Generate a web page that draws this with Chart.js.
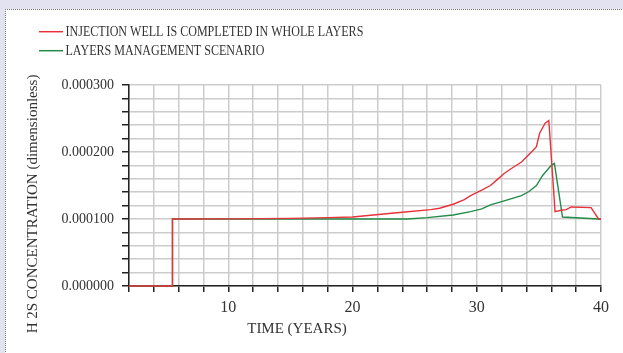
<!DOCTYPE html>
<html>
<head>
<meta charset="utf-8">
<script src="https://cdn.jsdelivr.net/npm/chart.js@4/dist/chart.umd.min.js"></script>
<style>
  html, body { margin: 0; padding: 0; background: #e3e2f0; }
  #sheet {
    position: absolute; left: 5px; top: 9px; width: 618px; height: 344px;
    background: #fff; border-left: 1px dotted #777; border-top: 1px dotted #777;
  }
  #wrap { position: absolute; left: 0; top: 0; width: 623px; height: 353px; }
</style>
</head>
<body>
<div id="sheet"></div>
<div id="wrap"><canvas id="chart" width="623" height="353"></canvas></div>
<script>
// series labels
const seriesNames = [
  "INJECTION WELL IS COMPLETED IN WHOLE LAYERS",
  "LAYERS MANAGEMENT SCENARIO"
];

// red: whole layers completion (time in years, concentration)
const timeWhole = [2, 5.5, 5.5, 10, 15, 18, 20, 22.3, 24, 26.3, 27, 28.1, 29, 29.5, 30.4, 31.1, 31.6, 32.2, 33.0, 33.6, 34.4, 34.8, 35.06, 35.5, 35.8, 36.3, 36.8, 37.2, 37.6, 39.2, 39.8, 40];
const concWhole = [0, 0, 0.000100, 0.0001002, 0.000101, 0.000102, 0.000103, 0.000107, 0.000110, 0.000114, 0.000116, 0.000122, 0.000129, 0.000135, 0.000143, 0.000150, 0.000158, 0.000168, 0.000178, 0.000185, 0.000200, 0.000208, 0.000228, 0.000243, 0.000247, 0.000111, 0.000113, 0.000114, 0.000118, 0.000117, 0.000100, 0.000100];

// green: layers management
const timeManaged = [2, 5.5, 5.5, 24.4, 26, 28.1, 29.5, 30.4, 31.1, 32.2, 33.6, 34.2, 34.8, 35.3, 36.0, 36.25, 36.9, 39.8, 40];
const concManaged = [0, 0, 0.000100, 0.000100, 0.000102, 0.000106, 0.000111, 0.000115, 0.000121, 0.000127, 0.000135, 0.000141, 0.000150, 0.000165, 0.000180, 0.000183, 0.000103, 0.000100, 0.000100];

const xTitle = "TIME (YEARS)";
const yTitle = "H 2S CONCENTRATION (dimensionless)";

const toPoints = (xs, ys) => xs.map((x, i) => ({ x: x, y: ys[i] }));

// legend and axis titles drawn by hand (the original has them off-centre)
const extraText = {
  id: "extraText",
  afterDraw(chart) {
    const ctx = chart.ctx;
    ctx.save();
    chart.data.datasets.forEach((ds, i) => {
      const y = 31.7 + i * 19;
      ctx.strokeStyle = ds.borderColor;
      ctx.lineWidth = 1.5;
      ctx.beginPath();
      ctx.moveTo(39, y);
      ctx.lineTo(63, y);
      ctx.stroke();
      ctx.save();
      ctx.fillStyle = "#333";
      ctx.font = '14px "Liberation Serif"';
      ctx.textBaseline = "alphabetic";
      ctx.translate(65.5, 36 + i * 19);
      ctx.scale(0.86, 1);
      ctx.fillText(ds.label, 0, 0);
      ctx.restore();
    });
    ctx.fillStyle = "#333";
    ctx.font = '15px "Liberation Serif"';
    ctx.textAlign = "center";
    ctx.textBaseline = "alphabetic";
    ctx.fillText(xTitle, 297, 333);
    ctx.translate(36.7, 204);
    ctx.rotate(-Math.PI / 2);
    ctx.fillText(yTitle, 0, 0);
    ctx.restore();
  }
};

new Chart(document.getElementById("chart").getContext("2d"), {
  type: "line",
  data: {
    datasets: [
      {
        label: seriesNames[0],
        data: toPoints(timeWhole, concWhole),
        borderColor: "#e8323a",
        borderWidth: 1.4,
        pointRadius: 0,
        tension: 0,
        clip: 3
      },
      {
        label: seriesNames[1],
        data: toPoints(timeManaged, concManaged),
        borderColor: "#238a48",
        borderWidth: 1.4,
        pointRadius: 0,
        tension: 0,
        clip: 3
      }
    ]
  },
  options: {
    responsive: false,
    animation: false,
    layout: { padding: { top: 85, right: 22, left: 0, bottom: 0 } },
    plugins: { legend: { display: false }, tooltip: { enabled: false } },
    scales: {
      x: {
        type: "linear",
        min: 2,
        max: 40,
        afterFit: s => { s.height = 67; },
        grid: { color: "#cccccc", lineWidth: 1.5, tickColor: "#222", tickLength: 6 },
        border: { color: "#222", width: 1.5 },
        ticks: {
          stepSize: 2,
          autoSkip: false,
          maxRotation: 0,
          padding: 6,
          color: "#333",
          font: { family: "Liberation Serif", size: 16 },
          callback: v => (Math.round(v) % 10 === 0 ? String(Math.round(v)) : "")
        }
      },
      y: {
        min: 0,
        max: 0.0003,
        afterFit: s => { s.width = 129; },
        grid: { color: "#cccccc", lineWidth: 1.5, tickColor: "#222", tickLength: 7 },
        border: { color: "#222", width: 1.5 },
        ticks: {
          stepSize: 0.00002,
          autoSkip: false,
          padding: 8,
          color: "#333",
          font: { family: "Liberation Serif", size: 14 },
          callback: v => (Math.round(v * 1e6) % 100 === 0 ? v.toFixed(6) : "")
        }
      }
    }
  },
  plugins: [extraText]
});
</script>
</body>
</html>
